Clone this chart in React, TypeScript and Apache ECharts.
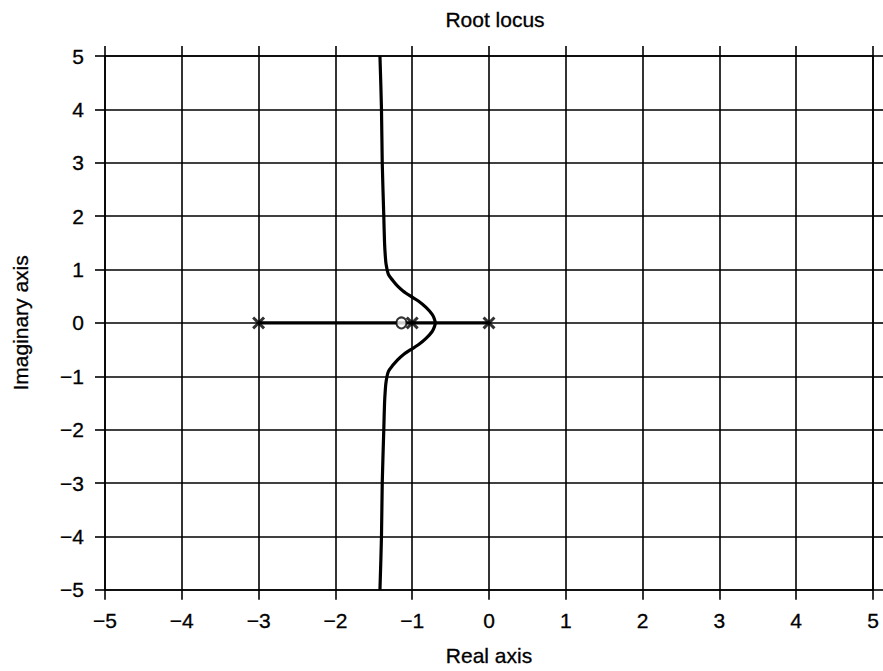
import React, { useEffect, useRef } from "react";
import * as echarts from "echarts";

// Complex branches of the root locus, traced from top (Im = 5) to bottom (Im = -5)
const locusRe = [
  -1.42, -1.4, -1.39, -1.37, -1.36, -1.35, -1.34, -1.31, -1.25, -1.19, -1.12,
  -1.03, -0.92, -0.82, -0.74, -0.71, -0.7, -0.71, -0.74, -0.82, -0.92, -1.03,
  -1.12, -1.19, -1.25, -1.31, -1.34, -1.35, -1.36, -1.37, -1.39, -1.4, -1.42,
];
const locusIm = [
  5, 4, 3, 2, 1.5, 1.25, 1.1, 0.91, 0.79, 0.69, 0.6, 0.51, 0.41, 0.29, 0.16,
  0.07, 0, -0.07, -0.16, -0.29, -0.41, -0.51, -0.6, -0.69, -0.79, -0.91, -1.1,
  -1.25, -1.5, -2, -3, -4, -5,
];

// Real-axis part of the locus
const realSegRe = [-3, 0];

// Open-loop poles and zero
const polesRe = [-3, -1, 0];
const zerosRe = [-1.14];

// Tick values shared by both axes
const ticks = [-5, -4, -3, -2, -1, 0, 1, 2, 3, 4, 5];

const FONT = "Liberation Sans, Arial, Helvetica, sans-serif";
const INK = "#000";

const CROSS =
  "path://M0,1.6 L1.6,0 L5,3.4 L8.4,0 L10,1.6 L6.6,5 L10,8.4 L8.4,10 L5,6.6 L1.6,10 L0,8.4 L3.4,5 Z";

const fmt = (v: number) => (v < 0 ? "\u2212" + Math.abs(v) : String(v));

const textStyle = {
  fontFamily: FONT,
  fontSize: 21,
  color: INK,
  textBorderColor: INK,
  textBorderWidth: 0.3,
};

export default function App() {
  const ref = useRef<HTMLDivElement>(null);

  useEffect(() => {
    if (!ref.current) return;
    const chart = echarts.init(ref.current, undefined, { renderer: "svg" });

    const baseAxis = {
      type: "value" as const,
      min: ticks[0],
      max: ticks[ticks.length - 1],
      interval: 1,
      axisLine: { show: true, onZero: false, lineStyle: { color: INK, width: 1.6 } },
      axisTick: { show: true, inside: false, length: 10, lineStyle: { color: INK, width: 1.6 } },
    };

    chart.setOption({
      animation: false,
      backgroundColor: "#fff",
      title: {
        text: "Root locus",
        left: 490,
        top: 4,
        textAlign: "center",
        textStyle: { ...textStyle, fontWeight: "normal" },
      },
      grid: { left: 105, right: 10, top: 56, bottom: 81, containLabel: false },
      xAxis: [
        {
          ...baseAxis,
          position: "bottom",
          name: "Real axis",
          nameLocation: "middle",
          nameGap: 55,
          nameTextStyle: textStyle,
          axisLabel: { formatter: fmt, margin: 20, ...textStyle },
          splitLine: { show: true, lineStyle: { color: INK, width: 1.6 } },
        },
        {
          ...baseAxis,
          position: "top",
          axisLabel: { show: false },
          splitLine: { show: false },
        },
      ],
      yAxis: [
        {
          ...baseAxis,
          position: "left",
          name: "Imaginary axis",
          nameLocation: "middle",
          nameGap: 74,
          nameTextStyle: textStyle,
          axisLabel: { formatter: fmt, margin: 21, ...textStyle },
          splitLine: { show: true, lineStyle: { color: INK, width: 1.6 } },
        },
        {
          ...baseAxis,
          position: "right",
          axisLabel: { show: false },
          splitLine: { show: false },
        },
      ],
      series: [
        {
          type: "line",
          data: locusRe.map((re, i) => [re, locusIm[i]]),
          smooth: 0.3,
          showSymbol: false,
          lineStyle: { color: "#000", width: 3.2 },
          z: 3,
        },
        {
          type: "line",
          data: realSegRe.map((re) => [re, 0]),
          showSymbol: false,
          lineStyle: { color: "#000", width: 3.2 },
          z: 3,
        },
        {
          type: "scatter",
          data: polesRe.map((re) => [re, 0]),
          symbol: CROSS,
          symbolSize: 13,
          itemStyle: { color: "#000" },
          z: 5,
        },
        {
          type: "scatter",
          data: zerosRe.map((re) => [re, 0]),
          symbol: "circle",
          symbolSize: [10, 11],
          itemStyle: { color: "#fff", borderColor: "#000", borderWidth: 2 },
          z: 5,
        },
      ],
    });

    return () => chart.dispose();
  }, []);

  return (
    <div
      ref={ref}
      style={{ position: "fixed", left: 0, top: 0, width: 883, height: 671 }}
    />
  );
}
